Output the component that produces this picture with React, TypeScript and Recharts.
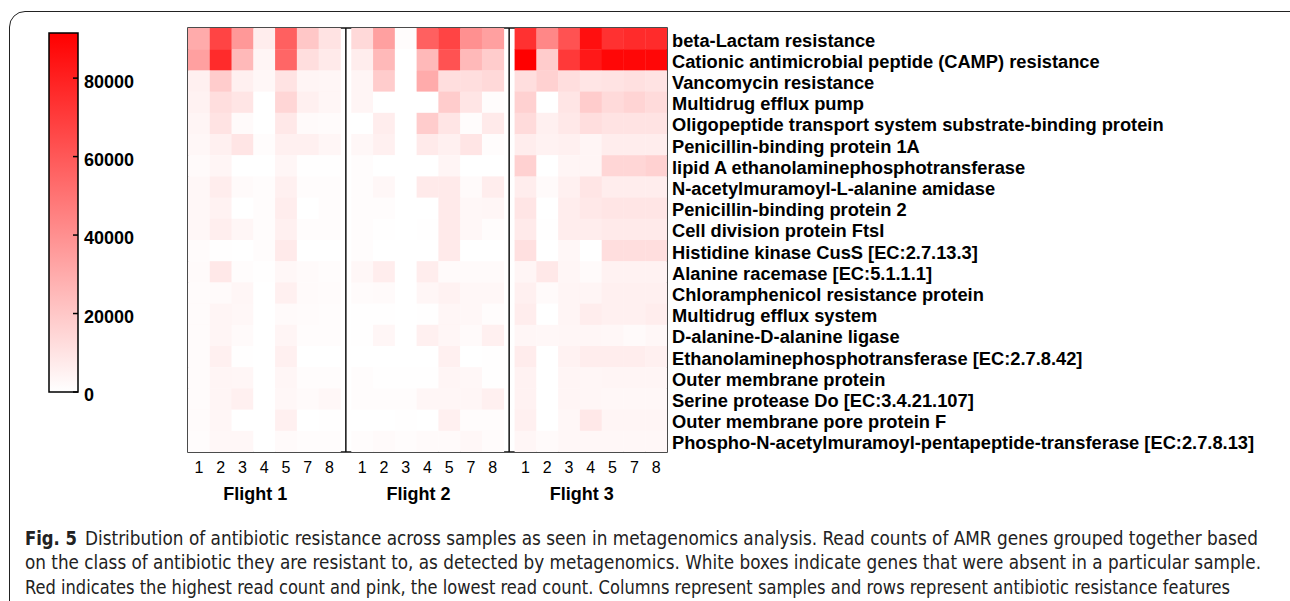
import React from "react";
import {
  ScatterChart,
  Scatter,
  XAxis,
  YAxis,
  ReferenceLine,
  ReferenceArea,
  BarChart,
  Bar,
} from "recharts";

const samples = ["1", "2", "3", "4", "5", "7", "8"];
const flights = ["Flight 1", "Flight 2", "Flight 3"];

const features = [
  "beta-Lactam resistance",
  "Cationic antimicrobial peptide (CAMP) resistance",
  "Vancomycin resistance",
  "Multidrug efflux pump",
  "Oligopeptide transport system substrate-binding protein",
  "Penicillin-binding protein 1A",
  "lipid A ethanolaminephosphotransferase",
  "N-acetylmuramoyl-L-alanine amidase",
  "Penicillin-binding protein 2",
  "Cell division protein FtsI",
  "Histidine kinase CusS [EC:2.7.13.3]",
  "Alanine racemase [EC:5.1.1.1]",
  "Chloramphenicol resistance protein",
  "Multidrug efflux system",
  "D-alanine-D-alanine ligase",
  "Ethanolaminephosphotransferase [EC:2.7.8.42]",
  "Outer membrane protein",
  "Serine protease Do [EC:3.4.21.107]",
  "Outer membrane pore protein F",
  "Phospho-N-acetylmuramoyl-pentapeptide-transferase [EC:2.7.8.13]",
];

// read counts, rows = features, columns = samples 1,2,3,4,5,7,8
const flight1 = [
  [30000, 67000, 37000, 6500, 57000, 20000, 10000],
  [34000, 76000, 25000, 3700, 55000, 12000, 7400],
  [5500, 18400, 5500, 2800, 10000, 3700, 3200],
  [4600, 12000, 9200, 0, 14700, 5500, 3200],
  [3700, 10000, 1800, 0, 8300, 1800, 1400],
  [2800, 5500, 9200, 900, 5500, 5500, 3200],
  [1800, 3700, 0, 0, 3200, 500, 500],
  [2800, 6400, 1800, 900, 5500, 900, 900],
  [2800, 4600, 0, 900, 6400, 0, 900],
  [2800, 6000, 3200, 900, 5500, 900, 900],
  [1400, 500, 0, 900, 7400, 0, 0],
  [1800, 8300, 900, 500, 2800, 1800, 900],
  [1400, 1800, 3200, 0, 5500, 1800, 1400],
  [1400, 3700, 2800, 0, 1800, 1400, 900],
  [1400, 3700, 1800, 0, 3700, 900, 900],
  [1400, 5500, 500, 0, 5500, 0, 0],
  [1400, 3700, 3200, 0, 3200, 900, 900],
  [1400, 3700, 5500, 0, 2800, 1800, 2800],
  [1400, 3200, 0, 0, 5500, 0, 500],
  [900, 2800, 2800, 0, 1800, 900, 900],
];

const flight2 = [
  [13800, 34000, 900, 57000, 67000, 40000, 34000],
  [6400, 25000, 0, 25000, 62000, 25000, 18400],
  [3700, 18400, 0, 30000, 12000, 12000, 13800],
  [3700, 0, 0, 0, 18400, 9200, 900],
  [0, 6400, 0, 18400, 9200, 900, 7400],
  [2800, 5500, 0, 7400, 5500, 9200, 900],
  [900, 0, 0, 0, 3700, 0, 0],
  [900, 2800, 0, 7400, 7400, 1800, 6400],
  [900, 900, 0, 0, 7400, 2800, 3200],
  [900, 500, 0, 500, 7400, 2800, 900],
  [900, 0, 0, 0, 7400, 0, 0],
  [2800, 6400, 0, 6400, 1800, 1800, 1800],
  [1400, 1800, 0, 3200, 4600, 2800, 2800],
  [500, 500, 0, 500, 3200, 2800, 900],
  [500, 3200, 0, 5500, 3200, 1800, 5500],
  [0, 0, 0, 0, 5500, 0, 500],
  [900, 500, 500, 500, 3700, 2800, 500],
  [900, 900, 900, 3200, 3200, 3200, 5500],
  [0, 0, 500, 0, 5500, 900, 900],
  [900, 1800, 900, 1800, 1800, 2800, 1400],
];

const flight3 = [
  [74000, 43000, 62000, 86000, 74000, 76000, 76000],
  [91500, 18400, 71000, 83000, 89000, 89000, 89000],
  [12000, 16600, 12000, 9200, 10000, 11000, 10000],
  [16600, 0, 9200, 18400, 13300, 15600, 12900],
  [12900, 5500, 8300, 12000, 10000, 10000, 10000],
  [6400, 4600, 5500, 3700, 6400, 6400, 6400],
  [16600, 0, 3700, 3700, 14700, 14700, 16600],
  [6400, 1800, 5500, 9200, 6400, 6400, 6400],
  [9200, 0, 6400, 8300, 9200, 9200, 9200],
  [7400, 500, 6400, 6400, 7400, 7400, 7400],
  [11000, 0, 2800, 0, 12000, 12000, 12000],
  [3700, 8300, 3200, 1800, 4600, 4600, 4600],
  [5500, 1800, 3700, 3700, 5500, 5500, 5500],
  [6400, 0, 3700, 6400, 5500, 5500, 6400],
  [3200, 2800, 3200, 3200, 2800, 1800, 2800],
  [6900, 0, 4600, 6400, 6400, 6400, 5500],
  [4600, 0, 3700, 3200, 3700, 3700, 3700],
  [4600, 0, 3700, 3200, 2800, 2800, 2800],
  [5500, 0, 2800, 8300, 3700, 3700, 3700],
  [3200, 1800, 2800, 2800, 2800, 2800, 2800],
];

const colorTicks = [0, 20000, 40000, 60000, 80000];
const colorMax = 91500;

const captionLines = [
  "Distribution of antibiotic resistance across samples as seen in metagenomics analysis. Read counts of AMR genes grouped together based",
  "on the class of antibiotic they are resistant to, as detected by metagenomics. White boxes indicate genes that were absent in a particular sample.",
  "Red indicates the highest read count and pink, the lowest read count. Columns represent samples and rows represent antibiotic resistance features",
];

// layout
const FONT = "'Liberation Sans', Arial, Helvetica, sans-serif";
const CAPTION_FONT = "'Liberation Sans Narrow', 'DejaVu Sans Condensed', 'Open Sans', sans-serif";
const PLOT_L = 188;
const PLOT_R = 667;
const PLOT_T = 28;
const PLOT_B = 452;
const STEP = samples.length + 0.5; // a half-cell gap between flights
const X_MAX = (flights.length - 1) * STEP + samples.length - 0.5;
const CW = (PLOT_R - PLOT_L) / (X_MAX + 0.5);
const CH = (PLOT_B - PLOT_T) / features.length;

const cells = [flight1, flight2, flight3].flatMap((rows, f) =>
  rows.flatMap((vals, r) => vals.map((v, i) => ({ x: f * STEP + i, y: r, v })))
);
const colTicks = flights.flatMap((_, f) => samples.map((_, i) => f * STEP + i));
const rowTicks = features.map((_, i) => i);

function heat(v: number) {
  const t = Math.min(v / colorMax, 1);
  const g = Math.round(255 * (1 - t));
  return `rgb(255,${g},${g})`;
}

function colOf(x: number) {
  const f = Math.floor(x / STEP + 1e-6);
  return { f, i: Math.round(x - f * STEP) };
}

const HeatCell = (props: any) => {
  const { cx, cy, payload } = props;
  return (
    <rect
      x={cx - CW / 2}
      y={cy - CH / 2}
      width={CW + 0.4}
      height={CH + 0.4}
      fill={heat(payload.v)}
    />
  );
};

const SampleTick = (props: any) => {
  const { x, y, payload } = props;
  const { f, i } = colOf(payload.value);
  return (
    <g>
      <text x={x} y={y} dy="0.71em" textAnchor="middle" fontSize={16} fill="#000">
        {samples[i]}
      </text>
      {i === 3 && (
        <text
          x={x - 9}
          y={y + 25}
          dy="0.71em"
          textAnchor="middle"
          fontSize={18}
          fontWeight="bold"
          fill="#000"
        >
          {flights[f]}
        </text>
      )}
    </g>
  );
};

function Heatmap() {
  return (
    <ScatterChart
      width={1290}
      height={520}
      margin={{ top: PLOT_T, left: PLOT_L, right: 1290 - PLOT_R - 600, bottom: 520 - PLOT_B - 56 }}
    >
      <XAxis
        type="number"
        dataKey="x"
        domain={[-0.5, X_MAX]}
        ticks={colTicks}
        interval={0}
        tick={<SampleTick />}
        tickLine={false}
        axisLine={false}
        tickSize={0}
        tickMargin={10}
        height={56}
        allowDataOverflow
      />
      <YAxis
        type="number"
        dataKey="y"
        orientation="right"
        reversed
        domain={[-0.5, features.length - 0.5]}
        ticks={rowTicks}
        interval={0}
        tickFormatter={(i: number) => features[i]}
        tickLine={false}
        axisLine={false}
        tickSize={0}
        tickMargin={5}
        width={600}
        tick={{ fontSize: 18.3, fontWeight: "bold", fill: "#000", dy: 1.5 }}
        allowDataOverflow
      />
      <Scatter data={cells} shape={HeatCell} isAnimationActive={false} />
      <ReferenceLine x={STEP - 0.75} stroke="#111" strokeWidth={1.5} />
      <ReferenceLine x={2 * STEP - 0.75} stroke="#111" strokeWidth={1.5} />
      <ReferenceArea
        x1={-0.5}
        x2={X_MAX}
        y1={-0.5}
        y2={features.length - 0.5}
        fill="none"
        fillOpacity={0}
        stroke="#111"
        strokeWidth={1.5}
      />
    </ScatterChart>
  );
}

function ColorBar() {
  const data = [{ name: "scale", v: colorMax }];
  return (
    <BarChart
      width={200}
      height={420}
      data={data}
      barCategoryGap={0}
      margin={{ top: 33, left: 39, right: 62, bottom: 28 }}
    >
      <defs>
        <linearGradient id="cbar" x1="0" y1="0" x2="0" y2="1">
          <stop offset="0%" stopColor="#ff0000" />
          <stop offset="100%" stopColor="#ffffff" />
        </linearGradient>
      </defs>
      <XAxis dataKey="name" hide />
      <YAxis
        yAxisId="l"
        orientation="left"
        domain={[0, colorMax]}
        ticks={colorTicks}
        interval={0}
        width={10}
        axisLine={false}
        tickSize={-5}
        tickLine={{ stroke: "#000", strokeWidth: 1.5 }}
        tickFormatter={() => ""}
      />
      <YAxis
        yAxisId="r"
        orientation="right"
        domain={[0, colorMax]}
        ticks={colorTicks}
        interval={0}
        width={60}
        axisLine={false}
        tickSize={-5}
        tickMargin={11}
        tickLine={{ stroke: "#000", strokeWidth: 1.5 }}
        tick={{ fontSize: 18, fontWeight: "bold", fill: "#000", dy: 3 }}
      />
      <Bar
        yAxisId="r"
        dataKey="v"
        fill="url(#cbar)"
        stroke="#000"
        strokeWidth={1.5}
        isAnimationActive={false}
      />
    </BarChart>
  );
}

function Caption() {
  const baselines = [545, 569, 594];
  const ends = [1258, 1261, 1230];
  return (
    <svg width={1290} height={601} style={{ position: "absolute", left: 0, top: 0 }}>
      <text
        x={25}
        y={baselines[0]}
        fontSize={19}
        fontWeight="bold"
        fontFamily={CAPTION_FONT}
        fill="#222"
        textLength={52}
        lengthAdjust="spacingAndGlyphs"
      >
        Fig. 5
      </text>
      {captionLines.map((line, i) => {
        const x0 = i === 0 ? 85 : 25;
        return (
          <text
            key={i}
            x={x0}
            y={baselines[i]}
            fontSize={19}
            fontFamily={CAPTION_FONT}
            fill="#222"
            textLength={ends[i] - x0}
            lengthAdjust="spacingAndGlyphs"
          >
            {line}
          </text>
        );
      })}
    </svg>
  );
}

export default function App() {
  return (
    <div
      style={{
        position: "absolute",
        left: 0,
        top: 0,
        width: 1290,
        height: 601,
        overflow: "hidden",
        background: "#fff",
        fontFamily: FONT,
      }}
    >
      <div
        style={{
          position: "absolute",
          left: 9,
          top: 11,
          width: 1300,
          height: 620,
          border: "1.5px solid #222",
          borderRadius: 16,
        }}
      />
      <div style={{ position: "absolute", left: 0, top: 0 }}>
        <Heatmap />
      </div>
      <div style={{ position: "absolute", left: 0, top: 0 }}>
        <ColorBar />
      </div>
      <Caption />
    </div>
  );
}
